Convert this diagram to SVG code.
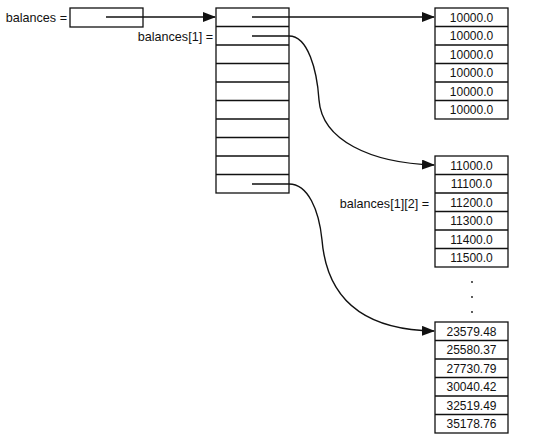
<svg xmlns="http://www.w3.org/2000/svg" width="546" height="445" viewBox="0 0 546 445">
<style>
.box{fill:#fff;stroke:#111;stroke-width:1.3}
.ln{fill:none;stroke:#111;stroke-width:1.4}
.t{font-family:"Liberation Sans",Arial,sans-serif;font-size:12px;fill:#111}
.l{font-size:12.6px}
.c{text-anchor:middle}
.r{text-anchor:end}
</style>
<defs>
<marker id="ah" markerWidth="13" markerHeight="10" refX="12" refY="5" orient="auto" markerUnits="userSpaceOnUse">
<path d="M0,0 L13,5 L0,10 Z" fill="#111"/>
</marker>
</defs>
<rect width="546" height="445" fill="#fff"/>
<g id="balances">
<text class="t l r" x="67" y="21.5">balances =</text>
<rect class="box" x="70" y="8" width="73" height="19"/>
</g>
<g id="rows">
<text class="t l r" x="213" y="40.5">balances[1] =</text>
<rect class="box" x="216" y="8" width="73" height="185"/>
<path class="ln" d="M216,26.5H289M216,45H289M216,63.5H289M216,82H289M216,100.5H289M216,119H289M216,137.5H289M216,156H289M216,174.5H289"/>
</g>
<g id="row0">
<rect class="box" x="435" y="8" width="73" height="111"/>
<path class="ln" d="M435,26.5H508M435,45H508M435,63.5H508M435,82H508M435,100.5H508"/>
<text class="t c" x="471.5" y="21.5">10000.0</text>
<text class="t c" x="471.5" y="40">10000.0</text>
<text class="t c" x="471.5" y="58.5">10000.0</text>
<text class="t c" x="471.5" y="77">10000.0</text>
<text class="t c" x="471.5" y="95.5">10000.0</text>
<text class="t c" x="471.5" y="114">10000.0</text>
</g>
<g id="row1">
<text class="t l r" x="429" y="207.5">balances[1][2] =</text>
<rect class="box" x="435" y="156" width="73" height="111"/>
<path class="ln" d="M435,174.5H508M435,193H508M435,211.5H508M435,230H508M435,248.5H508"/>
<text class="t c" x="471.5" y="169.5">11000.0</text>
<text class="t c" x="471.5" y="188">11100.0</text>
<text class="t c" x="471.5" y="206.5">11200.0</text>
<text class="t c" x="471.5" y="225">11300.0</text>
<text class="t c" x="471.5" y="243.5">11400.0</text>
<text class="t c" x="471.5" y="262">11500.0</text>
</g>
<g id="dots" fill="#111">
<circle cx="472" cy="282" r="0.9"/>
<circle cx="472" cy="297" r="0.9"/>
<circle cx="472" cy="312" r="0.9"/>
</g>
<g id="row9">
<rect class="box" x="435" y="322" width="73" height="111"/>
<path class="ln" d="M435,340.5H508M435,359H508M435,377.5H508M435,396H508M435,414.5H508"/>
<text class="t c" x="471.5" y="335.5">23579.48</text>
<text class="t c" x="471.5" y="354">25580.37</text>
<text class="t c" x="471.5" y="372.5">27730.79</text>
<text class="t c" x="471.5" y="391">30040.42</text>
<text class="t c" x="471.5" y="409.5">32519.49</text>
<text class="t c" x="471.5" y="428">35178.76</text>
</g>
<g id="connectors">
<path class="ln" d="M106,17H215" marker-end="url(#ah)"/>
<path class="ln" d="M252,17H434" marker-end="url(#ah)"/>
<path class="ln" d="M252,36H289C308,36 317,70 319,100C322,140 370,163 434,165" marker-end="url(#ah)"/>
<path class="ln" d="M252,184H289C308,184 319,210 322,240C327,300 365,330 434,331" marker-end="url(#ah)"/>
</g>
</svg>
